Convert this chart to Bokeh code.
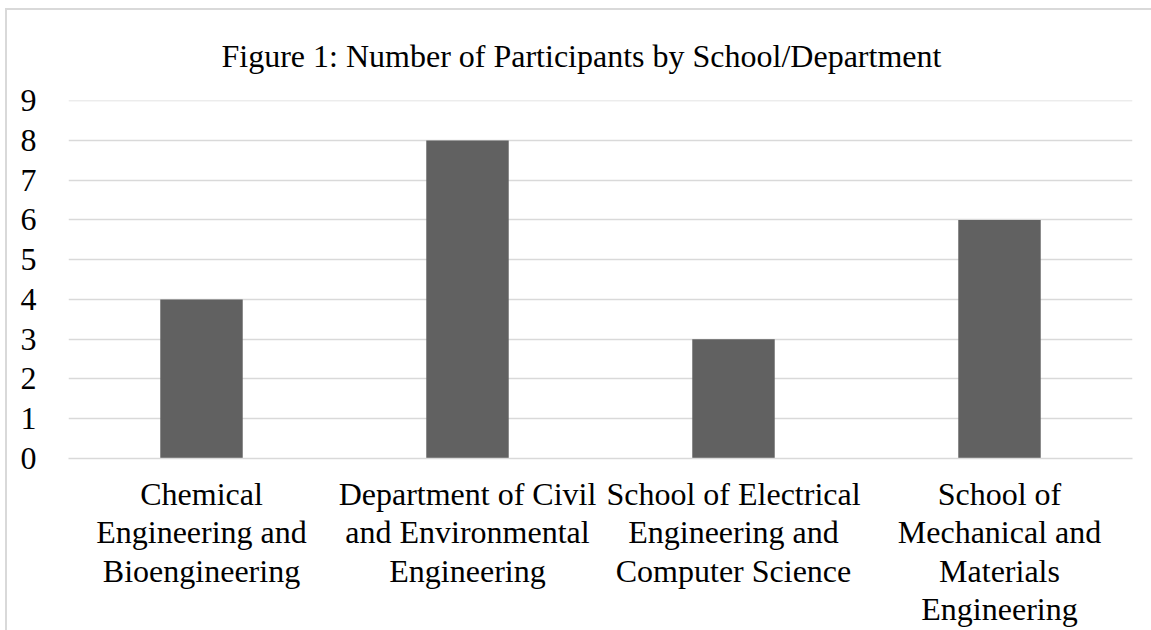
from bokeh.plotting import figure
from bokeh.models import FactorRange, Range1d, FixedTicker
from bokeh.embed import file_html
from bokeh.resources import INLINE

title_text = "Figure 1: Number of Participants by School/Department"
categories = [
    "Chemical\nEngineering and\nBioengineering",
    "Department of Civil\nand Environmental\nEngineering",
    "School of Electrical\nEngineering and\nComputer Science",
    "School of\nMechanical and\nMaterials\nEngineering",
]
participants = [4, 8, 3, 6]
y_ticks = [0, 1, 2, 3, 4, 5, 6, 7, 8, 9]

FONT = "Liberation Serif"

p = figure(width=1146, height=622, x_range=FactorRange(*categories, range_padding=0),
           y_range=Range1d(0, 9.004), output_backend="svg", toolbar_location=None,
           title=title_text)
p.margin = (8, 0, 0, 5)
p.styles = {"border-top": "2px solid #d9d9d9", "border-left": "2px solid #d9d9d9"}
p.min_border_left = 61
p.min_border_right = 21
p.min_border_top = 90
p.min_border_bottom = 174
p.outline_line_color = None
p.background_fill_color = "white"
p.border_fill_color = "white"

p.title.text_font = FONT
p.title.text_font_size = "32px"
p.title.text_font_style = "normal"
p.title.text_color = "black"
p.title.text_line_height = 0.8
p.title.align = "left"
p.title.vertical_align = "top"
p.title.offset = 153
p.title.standoff = 50

p.vbar(x=categories, top=participants, width=0.31, color="#616161", line_color=None)

p.yaxis.ticker = FixedTicker(ticks=y_ticks)
p.yaxis.axis_line_color = None
p.yaxis.major_tick_line_color = None
p.yaxis.minor_tick_line_color = None
p.yaxis.major_label_text_font = FONT
p.yaxis.major_label_text_font_size = "32px"
p.yaxis.major_label_text_color = "black"
p.yaxis.major_label_standoff = 26

p.xaxis.axis_line_color = "#d9d9d9"
p.xaxis.axis_line_width = 1.5
p.xaxis.major_tick_line_color = None
p.xaxis.minor_tick_line_color = None
p.xaxis.major_label_text_font = FONT
p.xaxis.major_label_text_font_size = "32px"
p.xaxis.major_label_text_color = "black"
p.xaxis.major_label_text_line_height = 1.07
p.xaxis.major_label_standoff = 11

p.xgrid.grid_line_color = None
p.ygrid.grid_line_color = "#d9d9d9"
p.ygrid.grid_line_width = 1.5

open("out.html", "w").write(file_html(p, INLINE))
